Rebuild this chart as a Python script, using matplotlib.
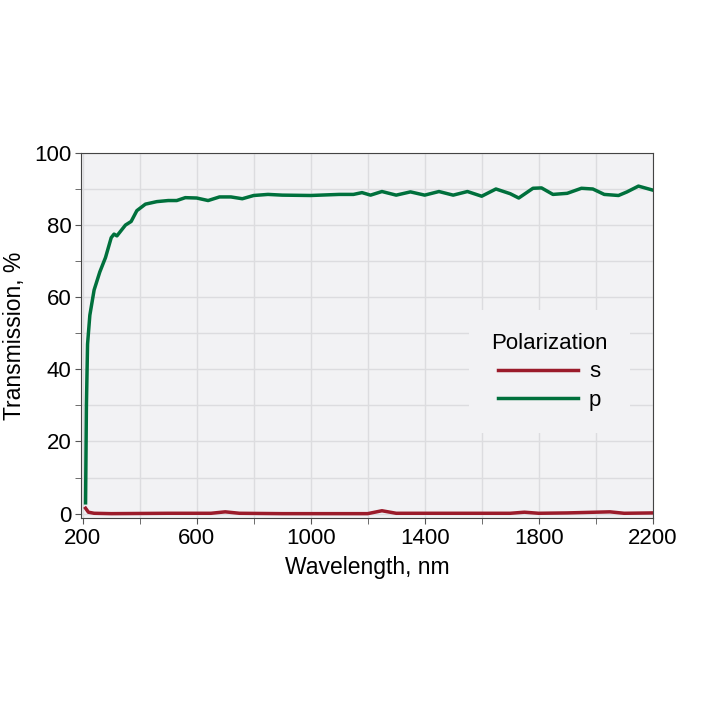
import matplotlib
matplotlib.use("Agg")
import matplotlib.pyplot as plt
from matplotlib.ticker import MultipleLocator

# Wavelength (nm) and transmission (%)
wl_p = [210, 213, 217, 225, 240, 260, 280, 300, 310, 320, 330, 350, 370, 390, 420,
        460, 500, 530, 560, 600, 640, 680, 720, 760, 800, 850, 900, 1000, 1100,
        1150, 1180, 1210, 1250, 1300, 1350, 1400, 1450, 1500, 1550, 1600, 1650,
        1700, 1730, 1780, 1810, 1850, 1900, 1950, 1990, 2030, 2080, 2110, 2150, 2200]
t_p = [3, 30, 47, 55, 62, 67, 71, 76.5, 77.5, 77, 78, 80, 81, 84, 85.8,
       86.5, 86.8, 86.8, 87.6, 87.5, 86.8, 87.8, 87.8, 87.3, 88.2, 88.5, 88.3, 88.2, 88.5,
       88.5, 89, 88.3, 89.3, 88.3, 89.2, 88.3, 89.3, 88.3, 89.3, 88, 90,
       88.7, 87.5, 90.2, 90.3, 88.5, 88.8, 90.2, 90, 88.5, 88.2, 89.2, 90.8, 89.7]

wl_s = [210, 220, 240, 300, 500, 650, 700, 750, 900, 1200, 1250, 1300, 1500, 1700,
        1750, 1800, 1900, 2050, 2100, 2200]
t_s = [1.5, 0.4, 0.1, 0, 0.1, 0.1, 0.5, 0.1, 0, 0, 0.8, 0.1, 0.1, 0.1,
       0.4, 0.1, 0.2, 0.5, 0.1, 0.2]

plt.rcParams['font.family'] = ['Liberation Sans', 'DejaVu Sans']

fig = plt.figure(figsize=(7.2, 7.2), dpi=100)
ax = fig.add_axes([0.1125, 0.2806, 0.794, 0.507])
ax.set_facecolor('#f2f2f4')

ax.plot(wl_s, t_s, color='#9b1b2a', linewidth=2.5, label='s')
ax.plot(wl_p, t_p, color='#00703c', linewidth=2.5, label='p')

ax.set_xlim(194, 2193)
ax.set_ylim(-1.2, 100)
ax.set_xticks([200, 600, 1000, 1400, 1800, 2200])
ax.xaxis.set_minor_locator(MultipleLocator(200))
ax.set_yticks([0, 20, 40, 60, 80, 100])
ax.yaxis.set_minor_locator(MultipleLocator(10))
ax.grid(True, which='both', color='#dcdcdf', linewidth=1)
ax.set_axisbelow(True)
ax.tick_params(labelsize=16, color='#555555', length=4, pad=3)
ax.tick_params(which='minor', length=4, color='#555555')
for s in ax.spines.values():
    s.set_color('#444444')

ax.set_xlabel('Wavelength, nm', fontsize=16.5, labelpad=5)
ax.set_ylabel('Transmission, %', fontsize=16.5, labelpad=6)

leg = ax.legend(title='Polarization', loc='center right', bbox_to_anchor=(0.98, 0.40),
                fontsize=16, title_fontsize=16, frameon=True, handlelength=3.6,
                borderpad=1.0, labelspacing=0.35, handletextpad=0.5)
leg.get_frame().set_facecolor('#f2f2f4')
leg.get_frame().set_edgecolor('none')
leg.get_frame().set_alpha(1)

fig.savefig('out.png', dpi=100)
